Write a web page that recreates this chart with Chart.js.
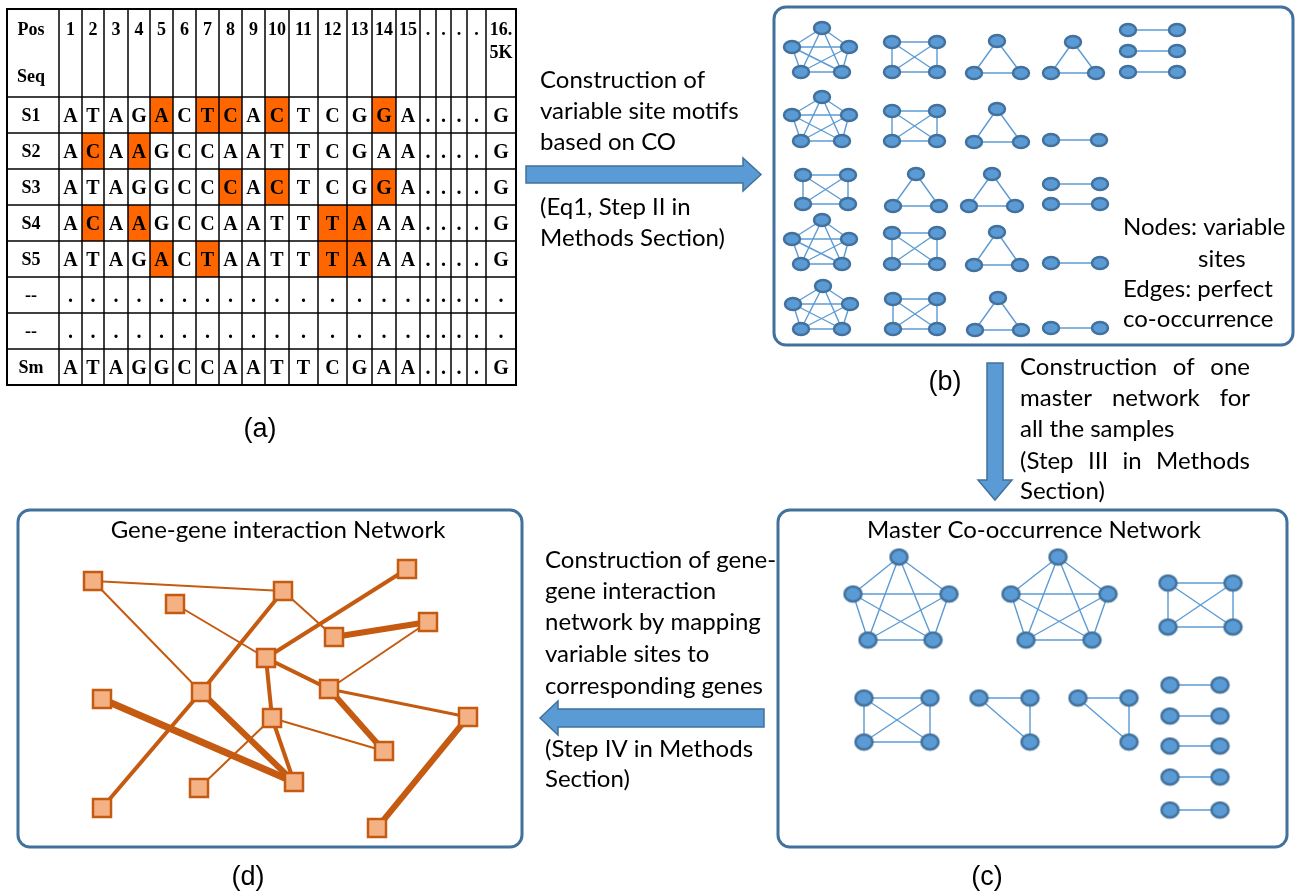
<!DOCTYPE html>
<html>
<head>
<meta charset="utf-8">
<script src="https://cdn.jsdelivr.net/npm/chart.js@4.4.0/dist/chart.umd.min.js"></script>
<style>
body { margin: 0; background: #fff; }
#diagram { display: block; }
</style>
</head>
<body>
<canvas id="diagram" width="1304" height="896"></canvas>
<script>
// ---- (a) variable site table ----
var posLabels = ["1","2","3","4","5","6","7","8","9","10","11","12","13","14","15",".",".",".",".","16.|5K"];
var seqNames = ["S1","S2","S3","S4","S5","--","--","Sm"];
var seqRows = [
    "ATAGACTCACTCGGA....G",
    "ACAAGCCAATTCGAA....G",
    "ATAGGCCCACTCGGA....G",
    "ACAAGCCAATTTAAA....G",
    "ATAGACTAATTTAAA....G",
    "....................",
    "....................",
    "ATAGGCCAATTCGAA....G"
];
var highlights = [[5,7,8,10,14],[2,4],[8,10,14],[2,4,12,13],[5,7,12,13],[],[],[]];

// ---- (b) motifs of variable sites (all cliques) ----
var motifsB = [
    [[822,28],[792,47],[849,47],[801,72],[842,72]],
    [[822,97],[792,115],[849,115],[801,141],[842,141]],
    [[822,220],[792,239],[849,239],[801,264],[842,264]],
    [[823,286],[793,304],[850,304],[801,329],[842,329]],
    [[892,42],[937,42],[892,72],[937,72]],
    [[892,111],[937,111],[892,141],[937,141]],
    [[803,175],[848,175],[803,204],[848,204]],
    [[892,233],[937,233],[892,264],[937,264]],
    [[893,299],[937,299],[893,329],[937,329]],
    [[997,41],[974,73],[1021,73]],
    [[1073,42],[1051,73],[1096,73]],
    [[997,109],[974,142],[1021,142]],
    [[916,174],[893,206],[939,206]],
    [[992,174],[969,206],[1015,206]],
    [[997,232],[974,265],[1020,265]],
    [[998,298],[975,330],[1021,330]],
    [[1128,30],[1177,30]],
    [[1128,51],[1177,51]],
    [[1128,72],[1177,72]],
    [[1051,140],[1099,140]],
    [[1051,184],[1100,184]],
    [[1051,204],[1100,204]],
    [[1051,263],[1100,263]],
    [[1051,328],[1100,328]]
];

// ---- (c) master co-occurrence network (all cliques) ----
var motifsC = [
    [[899,557],[853,594],[949,594],[868,640],[933,640]],
    [[1058,557],[1011,594],[1108,594],[1026,640],[1092,640]],
    [[1168,583],[1233,583],[1168,627],[1233,627]],
    [[864,698],[930,698],[864,742],[930,742]],
    [[979,698],[1030,698],[1030,742]],
    [[1078,698],[1129,698],[1129,742]],
    [[1170,685],[1220,685]],
    [[1170,716],[1220,716]],
    [[1170,746],[1220,746]],
    [[1170,777],[1220,777]],
    [[1170,810],[1220,810]]
];

// ---- (d) gene-gene interaction network ----
var genes = [
    [93,581],[283,591],[175,604],[407,569],[428,622],[334,637],[266,658],[201,692],[329,689],
    [102,699],[272,718],[468,717],[384,751],[294,782],[199,788],[102,808],[377,828]
];
// [from, to, weight]
var geneLinks = [
    [0,1,2],[0,7,2],[1,5,2],[1,7,4],[7,15,4],[2,6,2],[3,6,4],[4,5,6],[4,8,2],
    [6,8,4],[8,11,3],[8,12,6],[6,10,4],[10,13,4],[10,12,2],[10,14,2],[9,13,7],[7,13,6],[11,16,6]
];

const blueFill = "#5b9bd5", blueLine = "#41719c";
const orangeFill = "#f4b183", orangeLine = "#c55a11", cellOrange = "#ff6600";
const textFont = "Lato, Carlito, 'Open Sans', sans-serif";

function nodeImage(w, h, square){
    var c = document.createElement("canvas");
    c.width = w + 4; c.height = h + 4;
    var g = c.getContext("2d");
    g.beginPath();
    if(square){
        g.rect(2, 2, w, h);
        g.fillStyle = orangeFill; g.strokeStyle = orangeLine;
    }else{
        g.ellipse(c.width/2, c.height/2, w/2, h/2, 0, 0, Math.PI*2);
        g.fillStyle = blueFill; g.strokeStyle = blueLine;
    }
    g.fill();
    g.lineWidth = 2.5;
    g.stroke();
    return c;
}
var imgB = nodeImage(16, 12, false), imgC = nodeImage(17, 15, false), imgD = nodeImage(18, 18, true);

var datasets = [];
function addEdge(a, b, color, width){
    datasets.push({
        data: [{x: a[0], y: a[1]}, {x: b[0], y: b[1]}],
        showLine: true, borderColor: color, borderWidth: width,
        pointRadius: 0, order: 2
    });
}
function addNodes(list, img){
    datasets.push({
        data: list.map(p => ({x: p[0], y: p[1]})),
        pointStyle: img, pointRadius: 9, order: 1
    });
}
function addMotifs(motifs, img){
    var all = [];
    motifs.forEach(m => {
        for(let i = 0; i < m.length; i++){
            for(let j = i + 1; j < m.length; j++){
                addEdge(m[i], m[j], blueFill, 1.4);
            }
            all.push(m[i]);
        }
    });
    addNodes(all, img);
}
addMotifs(motifsB, imgB);
addMotifs(motifsC, imgC);
geneLinks.forEach(l => addEdge(genes[l[0]], genes[l[1]], orangeLine, l[2]));
addNodes(genes, imgD);

// table layout
var colEdges = [7,59,82,104,128,150,173,196,219,242,265,289,318,347,372,396,420,436,451,467,486,516];
var rowEdges = [9,97,133,169,205,241,277,313,349,385];

function drawBox(ctx, s, x0, y0, x1, y1){
    ctx.save();
    ctx.beginPath();
    ctx.roundRect(s.x(x0), s.y(y0), s.x(x1) - s.x(x0), s.y(y1) - s.y(y0), 12);
    ctx.lineWidth = 3;
    ctx.strokeStyle = blueLine;
    ctx.stroke();
    ctx.restore();
}
function drawArrow(ctx, s, pts){
    ctx.save();
    ctx.beginPath();
    pts.forEach((p, i) => i ? ctx.lineTo(s.x(p[0]), s.y(p[1])) : ctx.moveTo(s.x(p[0]), s.y(p[1])));
    ctx.closePath();
    ctx.fillStyle = blueFill;
    ctx.fill();
    ctx.lineWidth = 1.5;
    ctx.strokeStyle = blueLine;
    ctx.stroke();
    ctx.restore();
}
function justify(ctx, s, text, x0, x1, y){
    var words = text.split(" ");
    var total = words.reduce((t, w) => t + ctx.measureText(w).width, 0);
    var gap = (s.x(x1) - s.x(x0) - total) / (words.length - 1);
    var x = s.x(x0);
    words.forEach(w => { ctx.fillText(w, x, s.y(y)); x += ctx.measureText(w).width + gap; });
}

var diagramPlugin = {
    id: "diagram",
    beforeDatasetsDraw(chart){
        var ctx = chart.ctx;
        var s = {x: v => chart.scales.x.getPixelForValue(v), y: v => chart.scales.y.getPixelForValue(v)};

        // table cells
        ctx.save();
        for(let r = 0; r < seqRows.length; r++){
            highlights[r].forEach(c => {
                ctx.fillStyle = cellOrange;
                ctx.fillRect(s.x(colEdges[c]), s.y(rowEdges[r+1]), s.x(colEdges[c+1]) - s.x(colEdges[c]), s.y(rowEdges[r+2]) - s.y(rowEdges[r+1]));
            });
        }
        ctx.strokeStyle = "#000";
        ctx.lineWidth = 1.5;
        colEdges.forEach(x => { ctx.beginPath(); ctx.moveTo(s.x(x), s.y(rowEdges[0])); ctx.lineTo(s.x(x), s.y(rowEdges[rowEdges.length-1])); ctx.stroke(); });
        rowEdges.forEach(y => {
            ctx.beginPath();
            ctx.moveTo(s.x(colEdges[0]), s.y(y));
            ctx.lineTo(s.x(colEdges[colEdges.length-1]), s.y(y));
            ctx.stroke();
        });
        ctx.lineWidth = 2;
        ctx.strokeRect(s.x(colEdges[0]), s.y(rowEdges[0]), s.x(colEdges[colEdges.length-1]) - s.x(colEdges[0]), s.y(rowEdges[rowEdges.length-1]) - s.y(rowEdges[0]));

        ctx.fillStyle = "#000";
        ctx.textAlign = "center";
        ctx.textBaseline = "alphabetic";
        ctx.font = "bold 18px 'Liberation Serif', serif";
        var cx0 = (colEdges[0] + colEdges[1]) / 2;
        ctx.fillText("Pos", s.x(cx0 - 2), s.y(35));
        ctx.fillText("Seq", s.x(cx0 - 2), s.y(82));
        posLabels.forEach((p, i) => {
            var cx = (colEdges[i+1] + colEdges[i+2]) / 2;
            var parts = p.split("|");
            parts.forEach((t, k) => ctx.fillText(t, s.x(cx), s.y(35 + k * 23)));
        });
        seqRows.forEach((row, r) => {
            var cy = (rowEdges[r+1] + rowEdges[r+2]) / 2;
            ctx.font = "bold 18px 'Liberation Serif', serif";
            ctx.fillText(seqNames[r], s.x(cx0 - 2), s.y(cy + 6));
            ctx.font = "bold 20px 'Liberation Serif', serif";
            row.split("").forEach((ch, i) => {
                var cx = (colEdges[i+1] + colEdges[i+2]) / 2;
                ctx.fillText(ch, s.x(cx), s.y(cy + 7));
            });
        });
        ctx.restore();

        // panel boxes
        drawBox(ctx, s, 774, 7, 1293, 345);
        drawBox(ctx, s, 778, 510, 1287, 847);
        drawBox(ctx, s, 18, 510, 522, 847);

        // arrows
        drawArrow(ctx, s, [[526,166],[743,166],[743,158],[761,174.5],[743,191],[743,183],[526,183]]);
        drawArrow(ctx, s, [[987,363],[1003,363],[1003,480],[1012,480],[995,500],[978,480],[987,480]]);
        drawArrow(ctx, s, [[764,709],[558,709],[558,701],[540,718],[558,735],[558,727],[764,727]]);
    },
    afterDatasetsDraw(chart){
        var ctx = chart.ctx;
        var s = {x: v => chart.scales.x.getPixelForValue(v), y: v => chart.scales.y.getPixelForValue(v)};
        ctx.save();
        ctx.fillStyle = "#000";
        ctx.textBaseline = "middle";
        ctx.font = "24px " + textFont;
        ctx.textAlign = "left";
        [["Construction of",80],["variable site motifs",111],["based on CO",142],["(Eq1, Step II in",207],["Methods Section)",238]]
            .forEach(t => ctx.fillText(t[0], s.x(540), s.y(t[1])));
        [["Nodes: variable",1123,227],["sites",1198,259],["Edges: perfect",1123,289],["co-occurrence",1123,319]]
            .forEach(t => ctx.fillText(t[0], s.x(t[1]), s.y(t[2])));
        [["Construction of gene-",560],["gene interaction",591],["network by mapping",622],["variable sites to",654],["corresponding genes",686],["(Step IV in Methods",749],["Section)",779]]
            .forEach(t => ctx.fillText(t[0], s.x(545), s.y(t[1])));
        justify(ctx, s, "Construction of one", 1020, 1250, 367);
        justify(ctx, s, "master network for", 1020, 1250, 398);
        ctx.fillText("all the samples", s.x(1020), s.y(429));
        justify(ctx, s, "(Step III in Methods", 1020, 1250, 461);
        ctx.fillText("Section)", s.x(1020), s.y(491));

        ctx.textAlign = "center";
        ctx.font = "24px " + textFont;
        ctx.fillText("Master Co-occurrence Network", s.x(1034), s.y(530));
        ctx.fillText("Gene-gene interaction Network", s.x(278), s.y(530));

        ctx.font = "27px 'Liberation Sans', Arial, sans-serif";
        ctx.fillText("(a)", s.x(260), s.y(430));
        ctx.fillText("(b)", s.x(945), s.y(383));
        ctx.fillText("(c)", s.x(987), s.y(878));
        ctx.fillText("(d)", s.x(248), s.y(878));
        ctx.restore();
    }
};

var diagram = new Chart(document.getElementById("diagram"), {
    type: "scatter",
    data: { datasets: datasets },
    options: {
        responsive: false,
        animation: false,
        devicePixelRatio: 1,
        layout: { padding: 0, autoPadding: false },
        scales: {
            x: { type: "linear", min: 0, max: 1304, display: false },
            y: { type: "linear", min: 0, max: 896, reverse: true, display: false }
        },
        plugins: { legend: { display: false }, tooltip: { enabled: false } },
        events: []
    },
    plugins: [diagramPlugin]
});
</script>
</body>
</html>
